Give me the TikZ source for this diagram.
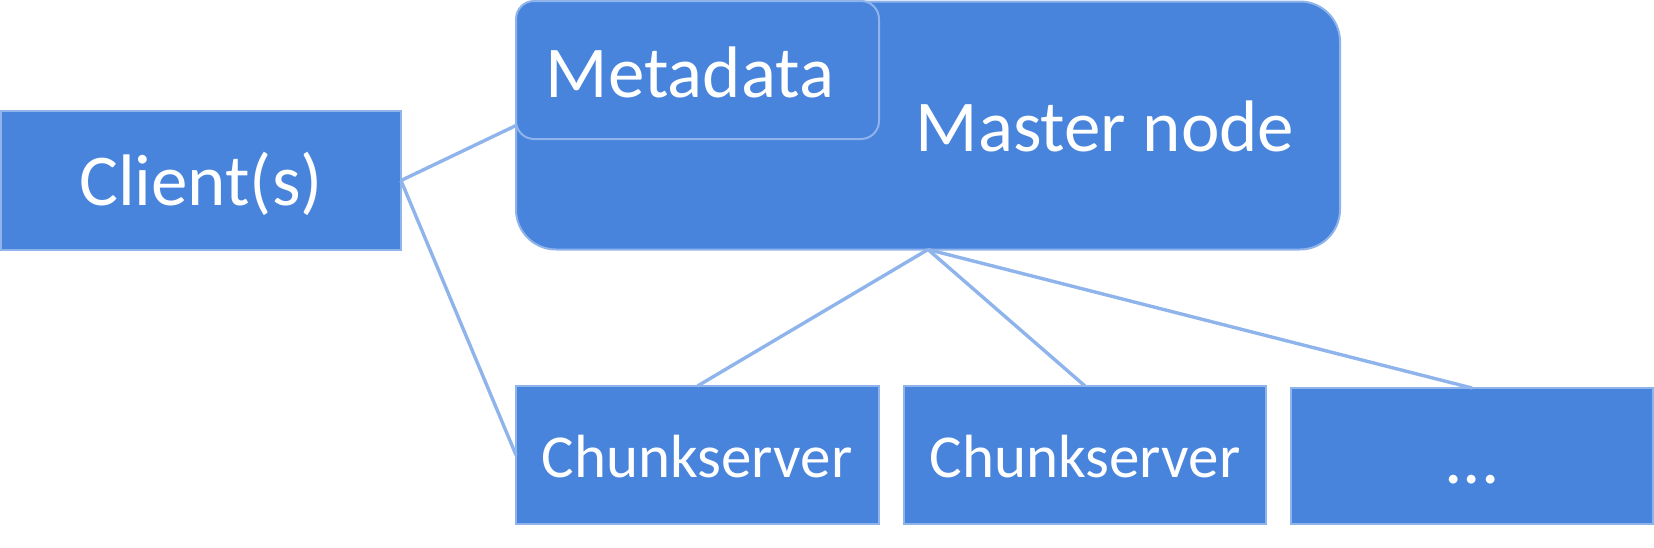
\documentclass[tikz,border=0pt]{standalone}
\usepackage{fontspec}
\setmainfont{Carlito}
\definecolor{boxfill}{RGB}{72,132,220}
\definecolor{edgeblue}{RGB}{143,180,236}
\begin{document}
\begin{tikzpicture}[x=0.5pt,y=-0.5pt,
  box/.style={draw=edgeblue,line width=1pt,fill=boxfill,inner sep=0pt,outer sep=0pt},
  bigtxt/.style={text=white,font=\fontsize{36.5pt}{40pt}\selectfont,inner sep=0pt,anchor=base},
  smalltxt/.style={text=white,font=\fontsize{30.5pt}{34pt}\selectfont,inner sep=0pt,anchor=base},
  link/.style={draw=edgeblue,line width=1.7pt}]
\useasboundingbox (0,0) rectangle (1654,547);
% boxes
\node[box,minimum width=400pt*0.5,minimum height=139pt*0.5] (client) at (201,180.5) {};
\node[box,rounded corners=20pt,minimum width=824pt*0.5,minimum height=248pt*0.5] (master) at (928,125.5) {};
\node[box,rounded corners=9pt,minimum width=363pt*0.5,minimum height=138pt*0.5] (meta) at (697.5,70) {};
\node[box,minimum width=363pt*0.5,minimum height=138pt*0.5] (cs1) at (697.5,455) {};
\node[box,minimum width=362pt*0.5,minimum height=138pt*0.5] (cs2) at (1085,455) {};
\node[box,minimum width=362pt*0.5,minimum height=136pt*0.5] (more) at (1472,456) {};
% texts
\node[bigtxt] (clientlbl) at (201,205) {Client(s)};
\node[bigtxt] (metalbl) at (690,97) {Metadata};
\node[bigtxt] (masterlbl) at (1105,151) {Master node};
\node[smalltxt] (cs1lbl) at (697,477) {Chunkserver};
\node[smalltxt] (cs2lbl) at (1085,477) {Chunkserver};
\node[bigtxt] (morelbl) at (1472,483) {...};
% connectors
\draw[link] (client.east) -- (master.west);
\draw[link] (client.east) -- (cs1.west);
\draw[link] (master.south) -- (cs1.north);
\draw[link] (master.south) -- (cs2.north);
\draw[link] (master.south) -- (more.north);
\end{tikzpicture}
\end{document}
